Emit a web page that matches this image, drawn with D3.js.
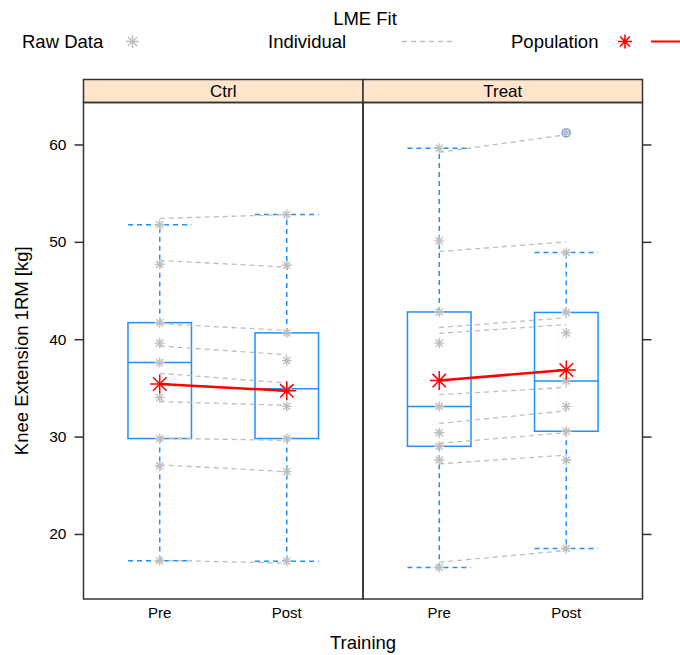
<!DOCTYPE html>
<html>
<head>
<meta charset="utf-8">
<script src="https://d3js.org/d3.v7.min.js"></script>
<style>
  body { margin: 0; background: #fff; }
  text { font-family: "Liberation Sans", Arial, sans-serif; fill: #000; }
</style>
</head>
<body>
<svg class="one"></svg>
<script>
// panels and x categories
var groups = ['Ctrl', 'Treat'];
var times = ['Pre', 'Post'];

// raw data per panel (Pre, Post)
var ctrlPre  = [51.75, 47.7, 41.7, 39.6, 37.6, 34.0, 29.8, 27.0, 17.25];
var ctrlPost = [52.8, 47.6, 40.65, 37.8, 34.9, 33.1, 29.8, 26.4, 17.2];
var treatPre  = [59.6, 50.1, 42.8, 39.6, 33.1, 30.4, 29.0, 27.6, 16.55];
var treatPost = [61.2, 48.9, 42.75, 40.65, 35.7, 33.1, 30.55, 27.6, 18.5];

// individual LME fitted values (one per subject)
var ctrlFitPre  = [52.4, 48.1, 41.6, 39.3, 36.5, 33.6, 29.85, 27.1, 17.3];
var ctrlFitPost = [52.8, 47.4, 40.9, 38.4, 35.5, 33.2, 29.6, 26.4, 17.0];
var treatFitPre  = [59.2, 49.0, 41.2, 40.6, 34.3, 31.35, 29.3, 27.2, 17.1];
var treatFitPost = [61.0, 50.0, 42.2, 41.5, 35.05, 32.65, 30.4, 28.1, 18.3];

// population fit (Ctrl, Treat)
var popPre  = [35.4, 35.75];
var popPost = [34.7, 36.85];

var yTicks = [20, 30, 40, 50, 60];

var svgwidth = 680, svgheight = 655;
var margins = { top: 102.5, bottom: 56, left: 83.5, right: 37.5 };
var stripH = 23;
var width = svgwidth - margins.left - margins.right;
var height = svgheight - margins.top - margins.bottom;
var panelW = width / 2;

var svg = d3.select('.one').attr('width', svgwidth).attr('height', svgheight);

var blue = '#1e90ff', grey = '#bebebe', red = '#ff0000';

var yScale = d3.scaleLinear().domain([13.32, 64.31]).range([margins.top + height, margins.top]);
var xScale = d3.scaleLinear().domain([0.4, 2.6]).range([0, panelW]);
var panelX = d3.scaleBand().domain(groups).range([margins.left, margins.left + width]);
var xPos = function(g, t) { return panelX(g) + xScale(times.indexOf(t) + 1); };

var rawData = { Ctrl: { Pre: ctrlPre, Post: ctrlPost }, Treat: { Pre: treatPre, Post: treatPost } };
var fitData = { Ctrl: [ctrlFitPre, ctrlFitPost], Treat: [treatFitPre, treatFitPost] };

var asterisk = function(sel, x, y, r, col, lw) {
  var d = r * 0.7071;
  var p = 'M' + (x - r) + ',' + y + 'H' + (x + r) +
          'M' + x + ',' + (y - r) + 'V' + (y + r) +
          'M' + (x - d) + ',' + (y - d) + 'L' + (x + d) + ',' + (y + d) +
          'M' + (x - d) + ',' + (y + d) + 'L' + (x + d) + ',' + (y - d);
  sel.append('path').attr('d', p).attr('stroke', col).attr('stroke-width', lw).attr('fill', 'none');
};

var fivenum = function(v) {
  var s = v.slice().sort(d3.ascending), n = s.length;
  var n4 = Math.floor((n + 3) / 2) / 2;
  var d = [1, n4, (n + 1) / 2, n + 1 - n4, n];
  return d.map(function(k) { return 0.5 * (s[Math.floor(k) - 1] + s[Math.ceil(k) - 1]); });
};

// panels
groups.forEach(function(g, gi) {
  var px = panelX(g);
  var clip = 'clip' + gi;
  svg.append('clipPath').attr('id', clip).append('rect')
     .attr('x', px).attr('y', margins.top).attr('width', panelW).attr('height', height);
  var pg = svg.append('g').attr('clip-path', 'url(#' + clip + ')');
  var bw = xScale(1.25) - xScale(1);

  // boxes
  times.forEach(function(t) {
    var vals = rawData[g][t];
    var f = fivenum(vals);
    var iqr = f[3] - f[1];
    var inside = vals.filter(function(v) { return v >= f[1] - 1.5 * iqr && v <= f[3] + 1.5 * iqr; });
    var lo = d3.min(inside), hi = d3.max(inside);
    var out = vals.filter(function(v) { return v < lo || v > hi; });
    var cx = xPos(g, t);
    pg.append('rect').attr('x', cx - bw).attr('y', yScale(f[3]))
      .attr('width', 2 * bw).attr('height', yScale(f[1]) - yScale(f[3]))
      .attr('fill', 'none').attr('stroke', blue).attr('stroke-width', 1.5);
    pg.append('line').attr('x1', cx - bw).attr('x2', cx + bw)
      .attr('y1', yScale(f[2])).attr('y2', yScale(f[2]))
      .attr('stroke', blue).attr('stroke-width', 1.5);
    [[f[3], hi], [f[1], lo]].forEach(function(w) {
      pg.append('line').attr('x1', cx).attr('x2', cx)
        .attr('y1', yScale(w[0])).attr('y2', yScale(w[1]))
        .attr('stroke', blue).attr('stroke-width', 1.5).attr('stroke-dasharray', '5,4');
      pg.append('line').attr('x1', cx - bw).attr('x2', cx + bw)
        .attr('y1', yScale(w[1])).attr('y2', yScale(w[1]))
        .attr('stroke', blue).attr('stroke-width', 1.5).attr('stroke-dasharray', '5,4');
    });
    out.forEach(function(v) {
      pg.append('circle').attr('cx', cx).attr('cy', yScale(v)).attr('r', 4)
        .attr('fill', 'none').attr('stroke', blue).attr('stroke-width', 1.3);
    });
  });

  // individual fits
  var fit = fitData[g];
  fit[0].forEach(function(v, i) {
    pg.append('line').attr('x1', xPos(g, 'Pre')).attr('x2', xPos(g, 'Post'))
      .attr('y1', yScale(v)).attr('y2', yScale(fit[1][i]))
      .attr('stroke', grey).attr('stroke-width', 1.3).attr('stroke-dasharray', '5,4');
  });

  // raw points
  times.forEach(function(t) {
    rawData[g][t].forEach(function(v) { asterisk(pg, xPos(g, t), yScale(v), 5, grey, 1.4); });
  });

  // population fit
  pg.append('line').attr('x1', xPos(g, 'Pre')).attr('x2', xPos(g, 'Post'))
    .attr('y1', yScale(popPre[gi])).attr('y2', yScale(popPost[gi]))
    .attr('stroke', red).attr('stroke-width', 2.5);
  asterisk(pg, xPos(g, 'Pre'), yScale(popPre[gi]), 9.5, red, 1.5);
  asterisk(pg, xPos(g, 'Post'), yScale(popPost[gi]), 9.5, red, 1.5);

  // strip
  svg.append('rect').attr('x', px).attr('y', margins.top - stripH)
     .attr('width', panelW).attr('height', stripH)
     .attr('fill', '#ffe5cc').attr('stroke', '#333').attr('stroke-width', 1.5);
  svg.append('text').attr('x', px + panelW / 2).attr('y', margins.top - 6)
     .attr('text-anchor', 'middle').style('font-size', '17px').text(g);

  // frame
  svg.append('rect').attr('x', px).attr('y', margins.top)
     .attr('width', panelW).attr('height', height)
     .attr('fill', 'none').attr('stroke', '#333').attr('stroke-width', 1.5);

  // x tick labels
  times.forEach(function(t) {
    svg.append('text').attr('x', xPos(g, t)).attr('y', margins.top + height + 19)
       .attr('text-anchor', 'middle').style('font-size', '15px').text(t);
  });
});

// y axes (left labelled, right ticks only)
var yAxis = d3.axisLeft(yScale).tickValues(yTicks).tickSize(9).tickPadding(8);
var gy = svg.append('g').attr('transform', 'translate(' + margins.left + ',0)').call(yAxis);
gy.select('.domain').remove();
gy.selectAll('line').attr('stroke', '#333').attr('stroke-width', 1.5);
gy.selectAll('text').style('font-size', '15.5px').style('font-family', '"Liberation Sans", Arial, sans-serif').attr('fill', '#000');

var yAxisR = d3.axisRight(yScale).tickValues(yTicks).tickSize(9).tickFormat('');
var gyr = svg.append('g').attr('transform', 'translate(' + (margins.left + width) + ',0)').call(yAxisR);
gyr.select('.domain').remove();
gyr.selectAll('line').attr('stroke', '#333').attr('stroke-width', 1.5);

// axis titles
svg.append('text').attr('transform', 'translate(28,' + (margins.top + height / 2) + ') rotate(-90)')
   .attr('text-anchor', 'middle').style('font-size', '18.5px').text('Knee Extension 1RM [kg]');
svg.append('text').attr('x', margins.left + width / 2).attr('y', 649)
   .attr('text-anchor', 'middle').style('font-size', '18.5px').text('Training');

// legend
var lg = svg.append('g');
lg.append('text').attr('x', 365).attr('y', 25).attr('text-anchor', 'middle').style('font-size', '18.5px').text('LME Fit');
lg.append('text').attr('x', 22).attr('y', 48).style('font-size', '18.5px').text('Raw Data');
asterisk(lg, 132.5, 41.5, 6.5, grey, 1.4);
lg.append('text').attr('x', 268).attr('y', 48).style('font-size', '18.5px').text('Individual');
lg.append('line').attr('x1', 402).attr('x2', 456).attr('y1', 41.5).attr('y2', 41.5)
  .attr('stroke', grey).attr('stroke-width', 1.3).attr('stroke-dasharray', '5,4');
lg.append('text').attr('x', 511).attr('y', 48).style('font-size', '18.5px').text('Population');
asterisk(lg, 625, 41.5, 7, red, 1.6);
lg.append('line').attr('x1', 651).attr('x2', 700).attr('y1', 41.5).attr('y2', 41.5)
  .attr('stroke', red).attr('stroke-width', 2);
</script>
</body>
</html>
